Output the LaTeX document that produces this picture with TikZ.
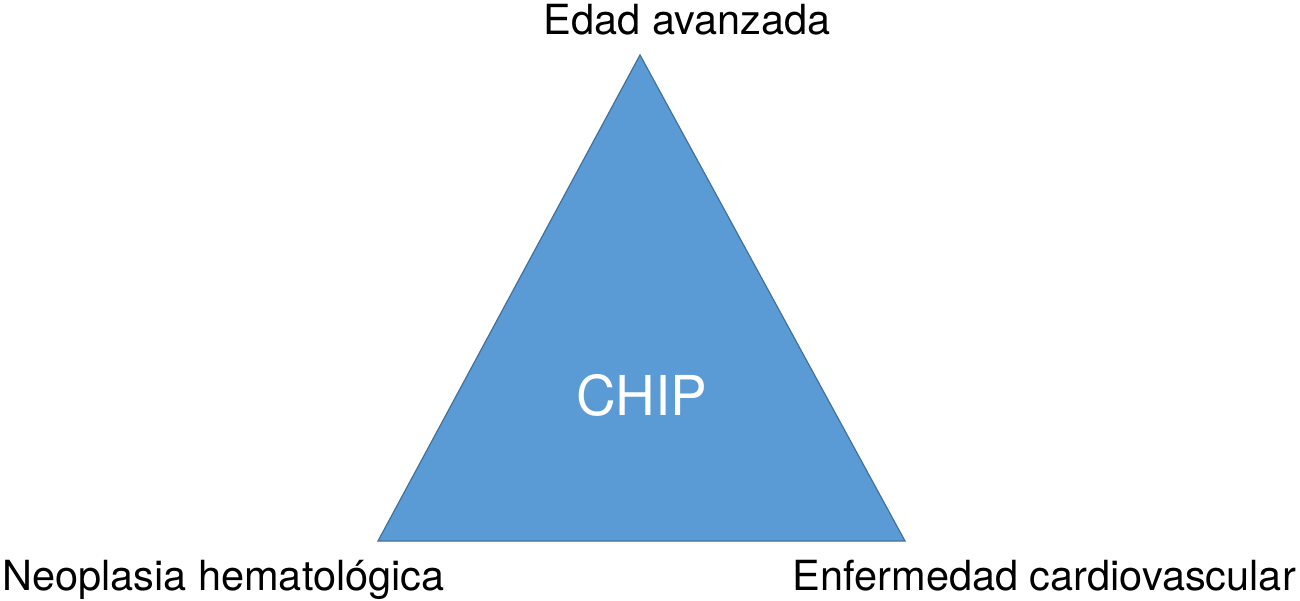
\documentclass[tikz,border=0pt]{standalone}
\usepackage{fontspec}
\setmainfont{TeX Gyre Heros}
\definecolor{trifill}{HTML}{5B9BD5}
\definecolor{triline}{HTML}{41719C}
\begin{document}
\begin{tikzpicture}[x=1pt,y=-1pt,
  lbl/.style={inner sep=0pt,font=\fontsize{41.5}{48}\selectfont,text=black},
  tri/.style={fill=trifill,draw=triline,line width=1.2pt,line join=miter}]
\useasboundingbox[fill=white] (0,0) rectangle (1300,600);
\coordinate (A) at (640,55);
\coordinate (B) at (378,541);
\coordinate (C) at (905,541);
\draw[tri] (A) -- (B) -- (C) -- cycle;
\node[inner sep=0pt,anchor=base,font=\fontsize{55}{60}\selectfont,text=white] (chip) at (642,415) {CHIP};
\node[lbl,anchor=base] (top) at (687,34) {Edad avanzada};
\node[lbl,anchor=base west] (left) at (2,590) {Neoplasia hematológica};
\node[lbl,anchor=base east] (right) at (1296,590) {Enfermedad cardiovascular};
\end{tikzpicture}
\end{document}
